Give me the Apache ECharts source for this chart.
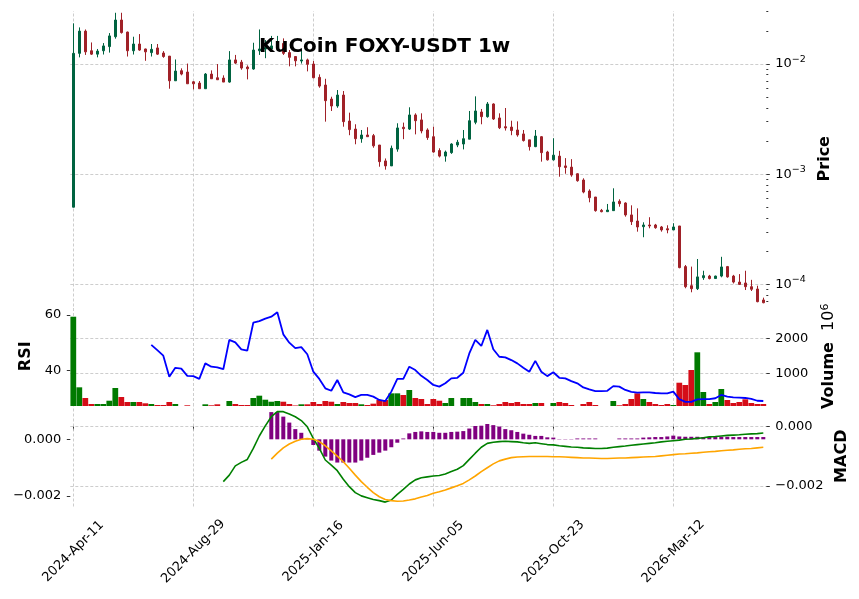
<!DOCTYPE html>
<html>
<head>
<meta charset="utf-8">
<title>KuCoin FOXY-USDT 1w</title>
<script src="https://cdn.jsdelivr.net/npm/echarts@6/dist/echarts.min.js"></script>
<style>
html, body { margin: 0; padding: 0; background: #fff; }
#main { width: 859px; height: 599px; }
</style>
</head>
<body>
<div id="main"></div>
<script>
// weekly candles, first week
var startDate = [2024, 3, 11];
var tickLabels = ['2024-Apr-11', '2024-Aug-29', '2025-Jan-16', '2025-Jun-05', '2025-Oct-23', '2026-Mar-12'];

var openP = [0.000502,0.0125,0.0199,0.0132,0.0123,0.0132,0.0144,0.0177,0.0251,0.0195,
  0.0132,0.0152,0.0137,0.0127,0.0140,0.0126,0.0118,0.00705,0.0087,0.00846,
  0.0069,0.00672,0.00597,0.00811,0.00751,0.00746,0.00686,0.0109,0.0104,0.00939,
  0.00901,0.0132,0.0137,0.0137,0.0139,0.0154,0.0127,0.0117,0.01065,0.0109,
  0.0100,0.00757,0.00645,0.00481,0.00416,0.00523,0.00304,0.00257,0.0021,0.00227,
  0.00224,0.00184,0.00132,0.00119,0.00169,0.00267,0.00257,0.00345,0.00311,0.00252,
  0.00219,0.00164,0.00146,0.00157,0.00184,0.00188,0.00208,0.00296,0.00367,0.00333,
  0.00434,0.00324,0.0027,0.00268,0.00252,0.00232,0.00205,0.00178,0.00219,0.00159,
  0.00135,0.00146,0.00119,0.00116,0.00101,0.000886,0.000704,0.000621,0.00047,0.000457,
  0.000467,0.000568,0.000548,0.000427,0.000376,0.000334,0.000346,0.000346,0.000332,0.00032,
  0.000312,0.000339,0.000145,0.0000973,0.0000914,0.000115,0.000119,0.000113,0.000119,0.000145,
  0.000119,0.000105,0.000103,0.0000953,0.0000908,0.0000722];
var highP = [0.0234,0.0215,0.0206,0.0157,0.0137,0.0155,0.0191,0.0292,0.0292,0.0197,
  0.0177,0.0187,0.0138,0.0152,0.0152,0.0131,0.0118,0.0110,0.00914,0.0101,
  0.00701,0.00701,0.00828,0.00876,0.0100,0.0079,0.0131,0.0121,0.0109,0.00973,
  0.0156,0.0206,0.0165,0.0180,0.0180,0.0171,0.0134,0.0118,0.0136,0.0112,
  0.01065,0.00806,0.00735,0.00505,0.00581,0.00569,0.00362,0.00284,0.00252,0.00267,
  0.00232,0.00184,0.00139,0.00182,0.0029,0.00294,0.00405,0.00357,0.00357,0.00261,
  0.0027,0.00172,0.00164,0.00191,0.00205,0.00252,0.00375,0.00509,0.00391,0.00452,
  0.0044,0.00357,0.00399,0.00306,0.00302,0.00252,0.00205,0.00252,0.00222,0.00163,
  0.00212,0.00163,0.0014,0.00137,0.00102,0.000918,0.000729,0.000621,0.000484,0.000537,
  0.000745,0.000592,0.000556,0.000522,0.00049,0.000366,0.000407,0.000354,0.000339,0.000344,
  0.000359,0.000339,0.00015,0.000145,0.00017,0.000133,0.000122,0.00012,0.000178,0.000147,
  0.000122,0.000124,0.000133,0.00011,0.0000973,0.0000758];
var lowP = [0.0005,0.0115,0.0121,0.0121,0.0115,0.0122,0.0127,0.0170,0.0189,0.0117,
  0.0122,0.0132,0.0107,0.0117,0.0121,0.0114,0.00597,0.00705,0.0079,0.00662,
  0.00589,0.00597,0.00597,0.00735,0.0072,0.00686,0.00677,0.0100,0.00888,0.00726,
  0.00888,0.0121,0.0113,0.0129,0.0134,0.0121,0.00953,0.00953,0.0101,0.00858,
  0.00742,0.0061,0.0030,0.00375,0.00401,0.0027,0.00226,0.00187,0.00193,0.00219,
  0.00174,0.00117,0.0011,0.00119,0.0016,0.00208,0.00252,0.0023,0.00235,0.00205,
  0.00157,0.00142,0.0013,0.00153,0.00176,0.00168,0.00208,0.00284,0.00284,0.00326,
  0.00311,0.00257,0.00249,0.00226,0.00219,0.00198,0.00164,0.00176,0.0013,0.00133,
  0.00133,0.000949,0.00101,0.000949,0.000855,0.000671,0.000556,0.000457,0.000451,0.000457,
  0.000467,0.000507,0.000412,0.000346,0.000301,0.000268,0.000323,0.00032,0.000301,0.000291,
  0.000312,0.00014,0.0000922,0.0000848,0.0000889,0.00011,0.000111,0.000113,0.000116,0.000115,
  0.000102,0.0000987,0.0000889,0.0000871,0.0000688,0.0000674];
var closeP = [0.0125,0.0199,0.0129,0.0123,0.0131,0.0146,0.0180,0.0251,0.0193,0.0132,
  0.0152,0.0134,0.0129,0.0136,0.0123,0.0117,0.00705,0.00864,0.00811,0.00662,
  0.00662,0.00597,0.00811,0.00735,0.0072,0.00686,0.0109,0.0102,0.0092,0.00906,
  0.0134,0.0137,0.0141,0.0146,0.0146,0.0125,0.0115,0.0107,0.0109,0.00994,
  0.00751,0.00631,0.00465,0.00416,0.00523,0.0030,0.00254,0.0021,0.00227,0.00219,
  0.00181,0.0013,0.00119,0.00172,0.00263,0.00259,0.00345,0.00306,0.00247,0.00215,
  0.00159,0.00146,0.00159,0.00188,0.00195,0.0021,0.00306,0.00375,0.00333,0.00434,
  0.00317,0.00264,0.00263,0.00249,0.00227,0.00202,0.00178,0.00222,0.00157,0.00135,
  0.00149,0.00117,0.00115,0.000983,0.000873,0.000689,0.000612,0.000467,0.000457,0.000473,
  0.00056,0.00054,0.000427,0.000371,0.000332,0.000346,0.000339,0.000327,0.000312,0.000312,
  0.000332,0.000142,0.0000953,0.0000914,0.000117,0.00012,0.000113,0.000119,0.000144,0.000117,
  0.000105,0.0001,0.0000953,0.0000903,0.0000697,0.0000682];

// volume in millions
var volume = [2636,595,286,113,113,113,208,575,315,170,
  170,170,133,113,84,84,170,113,45,75,
  45,45,104,75,104,45,199,113,84,84,
  286,353,237,179,199,179,113,70,104,104,
  170,113,199,179,113,170,142,142,104,84,
  123,228,228,421,421,373,517,286,257,113,
  257,208,142,286,45,286,286,170,113,113,
  75,113,170,142,170,113,113,142,142,45,
  142,170,142,84,45,113,170,84,45,45,
  199,75,113,257,422,257,170,113,84,113,
  84,728,662,1095,1607,460,113,170,546,228,
  142,170,249,142,113,113];

var rsiStart = 13;
var rsi = [49.2,47.3,45.3,37.7,40.9,40.6,38.0,37.9,36.9,42.5,
  41.3,41.1,40.4,51.0,50.1,47.6,47.1,57.2,57.8,58.7,
  59.4,61.0,53.0,50.0,48.0,48.4,45.8,39.5,36.9,33.5,
  32.6,36.5,32.0,31.3,30.3,31.1,31.1,30.5,29.3,28.9,
  32.3,36.9,36.9,41.3,40.1,38.0,36.5,34.7,34.1,35.3,
  37.1,37.3,39.1,46.1,51.0,48.8,54.6,47.6,44.9,44.7,
  43.7,42.5,40.9,39.5,43.4,39.5,37.9,39.3,37.3,37.1,
  36.1,35.3,33.8,33.1,32.5,32.5,32.6,34.3,34.1,32.9,
  32.2,31.9,32.0,32.0,31.8,31.7,31.7,32.3,29.6,28.6,
  28.6,29.5,29.6,29.6,29.9,31.1,30.5,30.2,30.1,30.0,
  29.7,29.0,28.9];

var macdStart = 25;
var macd = [-0.00186,-0.00164,-0.00133,-0.00121,-0.00111,-0.00074,-0.00032,0.00002,0.00033,0.0005,
  0.0005,0.00042,0.00033,0.0002,-0.00001,-0.0004,-0.00074,-0.00113,-0.0013,-0.00149,
  -0.00178,-0.00203,-0.00223,-0.00234,-0.0024,-0.00246,-0.0025,-0.00255,-0.00248,-0.00229,
  -0.00212,-0.00194,-0.0018,-0.00173,-0.0017,-0.00167,-0.00165,-0.0016,-0.00152,-0.00144,
  -0.00132,-0.00111,-0.0009,-0.0007,-0.00057,-0.00053,-0.00051,-0.0005,-0.00051,-0.00052,
  -0.00055,-0.00057,-0.00055,-0.00058,-0.00061,-0.00062,-0.00065,-0.00067,-0.00069,-0.0007,
  -0.00072,-0.00073,-0.00074,-0.00074,-0.00073,-0.0007,-0.00068,-0.00066,-0.00063,-0.00061,
  -0.00059,-0.00057,-0.00055,-0.00052,-0.0005,-0.00048,-0.00046,-0.00043,-0.00042,-0.0004,
  -0.00038,-0.00035,-0.00034,-0.00032,-0.0003,-0.00029,-0.00028,-0.00026,-0.00025,-0.00024,
  -0.00022];

var signalStart = 33;
var signal = [-0.0011,-0.0009,-0.00072,-0.00059,-0.0005,-0.00043,-0.00041,-0.00043,-0.00051,-0.00065,
  -0.00082,-0.001,-0.00119,-0.00141,-0.00164,-0.00186,-0.00205,-0.00223,-0.00237,-0.00246,
  -0.0025,-0.00252,-0.00251,-0.00248,-0.00244,-0.00238,-0.00233,-0.00225,-0.0022,-0.00214,
  -0.00207,-0.002,-0.00192,-0.0018,-0.00167,-0.00152,-0.00139,-0.00126,-0.00116,-0.0011,
  -0.00105,-0.00103,-0.00102,-0.00101,-0.00101,-0.00101,-0.00101,-0.00102,-0.00102,-0.00103,
  -0.00104,-0.00105,-0.00106,-0.00106,-0.00107,-0.00108,-0.00108,-0.00107,-0.00106,-0.00106,
  -0.00105,-0.00104,-0.00103,-0.00102,-0.00101,-0.00099,-0.00097,-0.00095,-0.00093,-0.00092,
  -0.0009,-0.00089,-0.00087,-0.00085,-0.00084,-0.00082,-0.0008,-0.00079,-0.00077,-0.00075,
  -0.00074,-0.00072,-0.0007];
var hist = [0.00096,0.00096,0.0008,0.00059,0.00036,0.00023,0.00002,-0.0002,-0.0004,-0.00061,
  -0.00075,-0.00082,-0.00082,-0.00082,-0.00082,-0.00075,-0.00065,-0.00055,-0.00047,-0.0004,
  -0.00028,-0.00012,0.00003,0.00021,0.00026,0.00028,0.00026,0.00026,0.00023,0.00023,
  0.00026,0.00027,0.00029,0.00038,0.00047,0.00048,0.00054,0.0005,0.00045,0.00036,
  0.00032,0.00026,0.0002,0.00016,0.00012,0.00012,0.00007,0.00006,0.00001,0.00001,
  0.00001,0.00003,0.00003,0.00003,0.00003,0,0,0,0.00003,0.00003,
  0.00003,0.00003,0.00006,0.00007,0.00008,0.00008,0.0001,0.00013,0.0001,0.00009,
  0.00009,0.00009,0.00008,0.00008,0.00008,0.00009,0.00009,0.00008,0.00008,0.00008,
  0.00008,0.00008,0.00008];

var priceTicks = [1e-4, 1e-3, 1e-2];
var priceMinorTicks = [7e-5, 8e-5, 9e-5, 2e-4, 3e-4, 4e-4, 5e-4, 6e-4, 7e-4, 8e-4, 9e-4,
  2e-3, 3e-3, 4e-3, 5e-3, 6e-3, 7e-3, 8e-3, 9e-3, 2e-2, 3e-2];
var volumeTicks = [1000, 2000];
var rsiTicks = [40, 60];
var macdTicks = [-0.002, 0];

var upC = '#006340', downC = '#a02128';
var volUp = '#007a00', volDown = '#d50d18';
var gridLine = { color: '#c0c0c0', type: [3, 2], width: 0.8 };
var font = 'DejaVu Sans';

var months = ['Jan','Feb','Mar','Apr','May','Jun','Jul','Aug','Sep','Oct','Nov','Dec'];
var dates = [];
var t0 = Date.UTC(startDate[0], startDate[1], startDate[2]);
for (var i = 0; i < openP.length; i++) {
  var d = new Date(t0 + i * 7 * 86400000);
  dates.push(d.getUTCFullYear() + '-' + months[d.getUTCMonth()] + '-' + ('0' + d.getUTCDate()).slice(-2));
}

function pad(arr, start) {
  var out = [];
  for (var k = 0; k < start; k++) out.push('-');
  return out.concat(arr);
}
function isTick(idx) { return tickLabels.indexOf(dates[idx]) >= 0; }
function minus(v, digits) {
  return (v < -1e-12 ? '\u2212' : '') + Math.abs(v).toFixed(digits);
}
// vertical dashed grid at the labelled weeks
function vGrid() {
  return {
    silent: true, symbol: ['none', 'none'], z: 1,
    label: { show: false }, lineStyle: gridLine, emphasis: { disabled: true },
    data: tickLabels.map(function (t) { return { xAxis: t }; })
  };
}

var candles = dates.map(function (d, k) { return [openP[k], closeP[k], lowP[k], highP[k]]; });
var volData = volume.map(function (v, k) {
  return { value: v, itemStyle: { color: closeP[k] >= openP[k] ? volUp : volDown } };
});

var L = 70.3, R = 92.7;
var grids = [
  { left: L, right: R, top: 11, height: 295.5 },
  { left: L, right: R, top: 306.5, height: 99.5 },
  { left: L, right: R, top: 406, height: 100.5 }
].map(function (g) { g.containLabel = false; g.outerBoundsMode = 'none'; return g; });

function xAx(idx) {
  var a = {
    type: 'category', gridIndex: idx, data: dates, boundaryGap: true,
    axisLine: { show: false }, axisTick: { show: false },
    axisLabel: { show: false }, splitLine: { show: false }
  };
  if (idx === 2) {
    a.axisTick = { show: true, alignWithLabel: true, interval: isTick, length: 4, lineStyle: { color: '#333' } };
    a.axisLabel = { show: true, interval: isTick, rotate: 45, align: 'center', verticalAlign: 'middle',
      margin: 45, fontSize: 13, color: '#000', fontFamily: font };
  }
  return a;
}

var tickStyle = { color: '#333', width: 1 };
var labelStyle = { fontSize: 13, color: '#000', fontFamily: font, margin: 9 };
var nameStyle = { fontSize: 16, fontWeight: 'bold', color: '#000', fontFamily: font };

var yAxes = [
  {
    type: 'log', logBase: 10, gridIndex: 0, position: 'right', min: 6.3e-5, max: 0.0303,
    axisLine: { show: false },
    axisTick: { show: true, customValues: priceTicks, length: 3.5, lineStyle: tickStyle },
    axisLabel: Object.assign({}, labelStyle, {
      customValues: priceTicks,
      formatter: function (v) {
        var e = Math.round(Math.log(v) / Math.LN10);
        return '10{sup|' + (e < 0 ? '\u2212' : '') + Math.abs(e) + '}';
      },
      rich: { sup: { fontSize: 9.5, color: '#000', fontFamily: font, padding: [0, 0, 9, 0] } }
    }),
    splitLine: { show: true, lineStyle: gridLine },
    name: 'Price', nameLocation: 'middle', nameRotate: 90, nameGap: 45, nameTextStyle: nameStyle
  },
  {
    type: 'log', logBase: 10, gridIndex: 0, position: 'right', min: 6.3e-5, max: 0.0303,
    axisLine: { show: false },
    axisTick: { show: true, customValues: priceMinorTicks, length: 2, lineStyle: tickStyle },
    axisLabel: { show: false }, splitLine: { show: false }
  },
  {
    type: 'value', gridIndex: 1, position: 'right', min: 55, max: 2931,
    axisLine: { show: false },
    axisTick: { show: true, customValues: volumeTicks, length: 3.5, lineStyle: tickStyle },
    axisLabel: Object.assign({}, labelStyle, { customValues: volumeTicks, formatter: function (v) { return String(v); } }),
    splitLine: { show: true, lineStyle: gridLine },
    name: 'Volume  {n|10}{sup|6}', nameLocation: 'middle', nameRotate: 90, nameGap: 47,
    nameTextStyle: Object.assign({}, nameStyle, {
      rich: {
        n: { fontSize: 16, fontWeight: 'normal', color: '#000', fontFamily: font },
        sup: { fontSize: 11, fontWeight: 'normal', color: '#000', fontFamily: font, padding: [0, 0, 9, 0] }
      }
    })
  },
  {
    type: 'value', gridIndex: 1, position: 'left', min: 27.1, max: 63.07,
    axisLine: { show: false },
    axisTick: { show: true, customValues: rsiTicks, length: 3.5, lineStyle: tickStyle },
    axisLabel: Object.assign({}, labelStyle, { customValues: rsiTicks }),
    splitLine: { show: false },
    name: 'RSI', nameLocation: 'middle', nameRotate: 90, nameGap: 32, nameTextStyle: nameStyle
  },
  {
    type: 'value', gridIndex: 2, position: 'right', min: -0.002698, max: 0.000691,
    axisLine: { show: false },
    axisTick: { show: true, customValues: macdTicks, length: 3.5, lineStyle: tickStyle },
    axisLabel: Object.assign({}, labelStyle, { customValues: macdTicks, formatter: function (v) { return minus(v, 3); } }),
    splitLine: { show: true, lineStyle: gridLine },
    name: 'MACD', nameLocation: 'middle', nameRotate: 90, nameGap: 64, nameTextStyle: nameStyle
  },
  {
    type: 'value', gridIndex: 2, position: 'left', min: -0.00237, max: 0.001175,
    axisLine: { show: false },
    axisTick: { show: true, customValues: macdTicks, length: 3.5, lineStyle: tickStyle },
    axisLabel: Object.assign({}, labelStyle, { customValues: macdTicks, formatter: function (v) { return minus(v, 3); } }),
    splitLine: { show: false }
  }
];

var chart = echarts.init(document.getElementById('main'), null, { renderer: 'canvas' });
chart.setOption({
  backgroundColor: '#ffffff',
  animation: false,
  textStyle: { fontFamily: font },
  title: {
    text: 'KuCoin FOXY-USDT 1w', left: 259, top: 37, padding: 0,
    textStyle: { fontFamily: font, fontWeight: 'bold', fontSize: 20, color: '#000' }
  },
  grid: grids,
  xAxis: [xAx(0), xAx(1), xAx(2)],
  yAxis: yAxes,
  series: [
    {
      type: 'candlestick', xAxisIndex: 0, yAxisIndex: 0, data: candles, barWidth: 3,
      itemStyle: { color: upC, color0: downC, borderColor: upC, borderColor0: downC, borderWidth: 1 },
      markLine: vGrid()
    },
    {
      type: 'bar', xAxisIndex: 1, yAxisIndex: 2, data: volData, barWidth: '96%', z: 2,
      markLine: vGrid()
    },
    {
      type: 'line', xAxisIndex: 1, yAxisIndex: 3, data: pad(rsi, rsiStart), symbol: 'none', z: 4,
      lineStyle: { color: '#0000ff', width: 1.8 }
    },
    {
      type: 'bar', xAxisIndex: 2, yAxisIndex: 5, data: pad(hist, signalStart), barWidth: 4, z: 2,
      itemStyle: { color: '#800080' }, markLine: vGrid()
    },
    {
      type: 'line', xAxisIndex: 2, yAxisIndex: 4, data: pad(macd, macdStart), symbol: 'none', z: 4,
      lineStyle: { color: '#008000', width: 1.6 }
    },
    {
      type: 'line', xAxisIndex: 2, yAxisIndex: 4, data: pad(signal, signalStart), symbol: 'none', z: 4,
      lineStyle: { color: '#ffa500', width: 1.6 }
    }
  ]
});
</script>
</body>
</html>
